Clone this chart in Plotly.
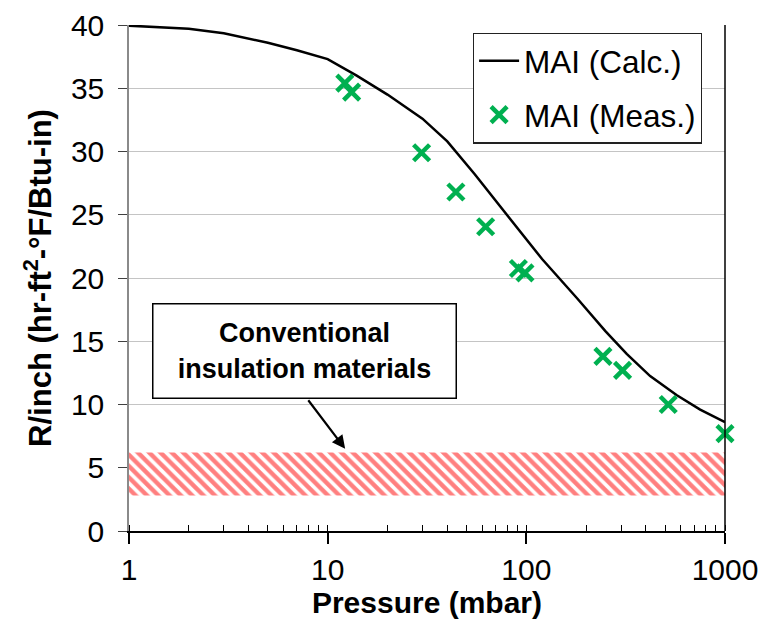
import plotly.graph_objects as go

# Calculated R/inch curve for MAI vs. gas pressure
calc_pressure = [1, 2, 3, 5, 7, 10, 14, 20, 30, 40, 55, 80, 120, 180, 250, 320, 420, 570, 750, 1000]
calc_r = [39.95, 39.7, 39.35, 38.6, 38.0, 37.3, 36.0, 34.5, 32.6, 30.8, 28.2, 25.0, 21.5, 18.4, 15.8, 14.0, 12.25, 10.75, 9.6, 8.6]

# Measured R/inch values
meas_pressure = [12.2, 13.2, 29.7, 44.2, 62.4, 91.2, 98.4, 243, 305, 518, 1000]
meas_r = [35.4, 34.7, 29.9, 26.8, 24.05, 20.75, 20.4, 13.8, 12.7, 10.0, 7.7]

# Range covered by conventional insulation materials
band_pressure = [1, 1000]
band_low = 2.8
band_high = 6.2

x_tickvals = [1, 10, 100, 1000]
x_ticktext = ["1", "10", "100", "1000"]
y_tickvals = [0, 5, 10, 15, 20, 25, 30, 35, 40]

FONT = "Liberation Sans, Arial, sans-serif"
GREEN = "#00B050"

fig = go.Figure()

# hatched band
fig.add_trace(go.Scatter(
    x=[band_pressure[0], band_pressure[1], band_pressure[1], band_pressure[0], band_pressure[0]],
    y=[band_low, band_low, band_high, band_high, band_low],
    mode="lines",
    line=dict(width=0, color="rgba(0,0,0,0)"),
    fill="toself",
    fillcolor="white",
    fillpattern=dict(shape="\\", fgcolor="#ff0000", bgcolor="white", size=8, solidity=0.55),
    showlegend=False,
    hoverinfo="skip",
))

fig.add_trace(go.Scatter(
    x=calc_pressure, y=calc_r,
    mode="lines",
    line=dict(color="black", width=2.5),
    name="MAI (Calc.)",
    legendgroup="calc",
    cliponaxis=False,
))

fig.add_trace(go.Scatter(
    x=meas_pressure, y=meas_r,
    mode="markers",
    marker=dict(symbol="x-thin-open", size=16, line=dict(color=GREEN, width=4.5), color=GREEN),
    name="MAI (Meas.)",
    legendgroup="meas",
    cliponaxis=False,
))

fig.update_xaxes(
    type="log",
    range=[0, 3],
    automargin=False,
    tickvals=x_tickvals,
    ticktext=x_ticktext,
    ticks="outside",
    ticklen=11,
    tickwidth=1.5,
    tickcolor="black",
    showline=True,
    linecolor="black",
    linewidth=1.5,
    showgrid=False,
    zeroline=False,
    minor=dict(ticks="inside", ticklen=6, tickcolor="black", tickwidth=1, dtick="D1", showgrid=False),
    tickfont=dict(family=FONT, size=30, color="black"),
    title=dict(text="<b>Pressure (mbar)</b>", font=dict(family=FONT, size=30, color="black"), standoff=4),
)

fig.update_yaxes(
    range=[0, 40],
    automargin=False,
    tickvals=y_tickvals,
    ticks="outside",
    ticklen=9,
    tickwidth=1.3,
    tickcolor="#404040",
    showline=True,
    linecolor="#8a8a8a",
    linewidth=1.5,
    showgrid=True,
    gridcolor="#c4c4c4",
    gridwidth=1.3,
    zeroline=False,
    tickfont=dict(family=FONT, size=30, color="black"),
    ticklabelstandoff=8,
    title=dict(text="<b>R/inch (hr-ft<sup>2</sup>-°F/Btu-in)</b>",
               font=dict(family=FONT, size=31, color="black"), standoff=10),
)

# right-hand frame line
fig.add_shape(type="line", xref="paper", yref="paper", x0=1, x1=1, y0=0, y1=1,
              line=dict(color="black", width=1.5))

# callout box and arrow
fig.add_annotation(
    xref="paper", yref="paper", x=0.2953, y=0.3557,
    xanchor="center", yanchor="middle",
    text="<b>Conventional<br>insulation materials</b>",
    showarrow=False,
    font=dict(family=FONT, size=27, color="black"),
    align="center",
    width=300, height=91,
    bordercolor="black", borderwidth=1.5, borderpad=1,
    bgcolor="white",
)
fig.add_annotation(
    x=1.088, y=6.5, xref="x", yref="y",
    ax=-38, ay=-50,
    text="",
    showarrow=True,
    arrowhead=2, arrowsize=1.2, arrowwidth=2.2, arrowcolor="black",
)

fig.update_layout(
    width=763, height=626,
    margin=dict(l=129, r=38, t=25, b=95),
    paper_bgcolor="white",
    plot_bgcolor="white",
    font=dict(family=FONT, color="black"),
    legend=dict(
        x=0.577, y=0.985, xanchor="left", yanchor="top",
        bgcolor="white", bordercolor="#222222", borderwidth=1.2,
        font=dict(family=FONT, size=31.5, color="black"),
        tracegroupgap=10,
        itemwidth=40,
    ),
)

fig.write_html("out.html")
